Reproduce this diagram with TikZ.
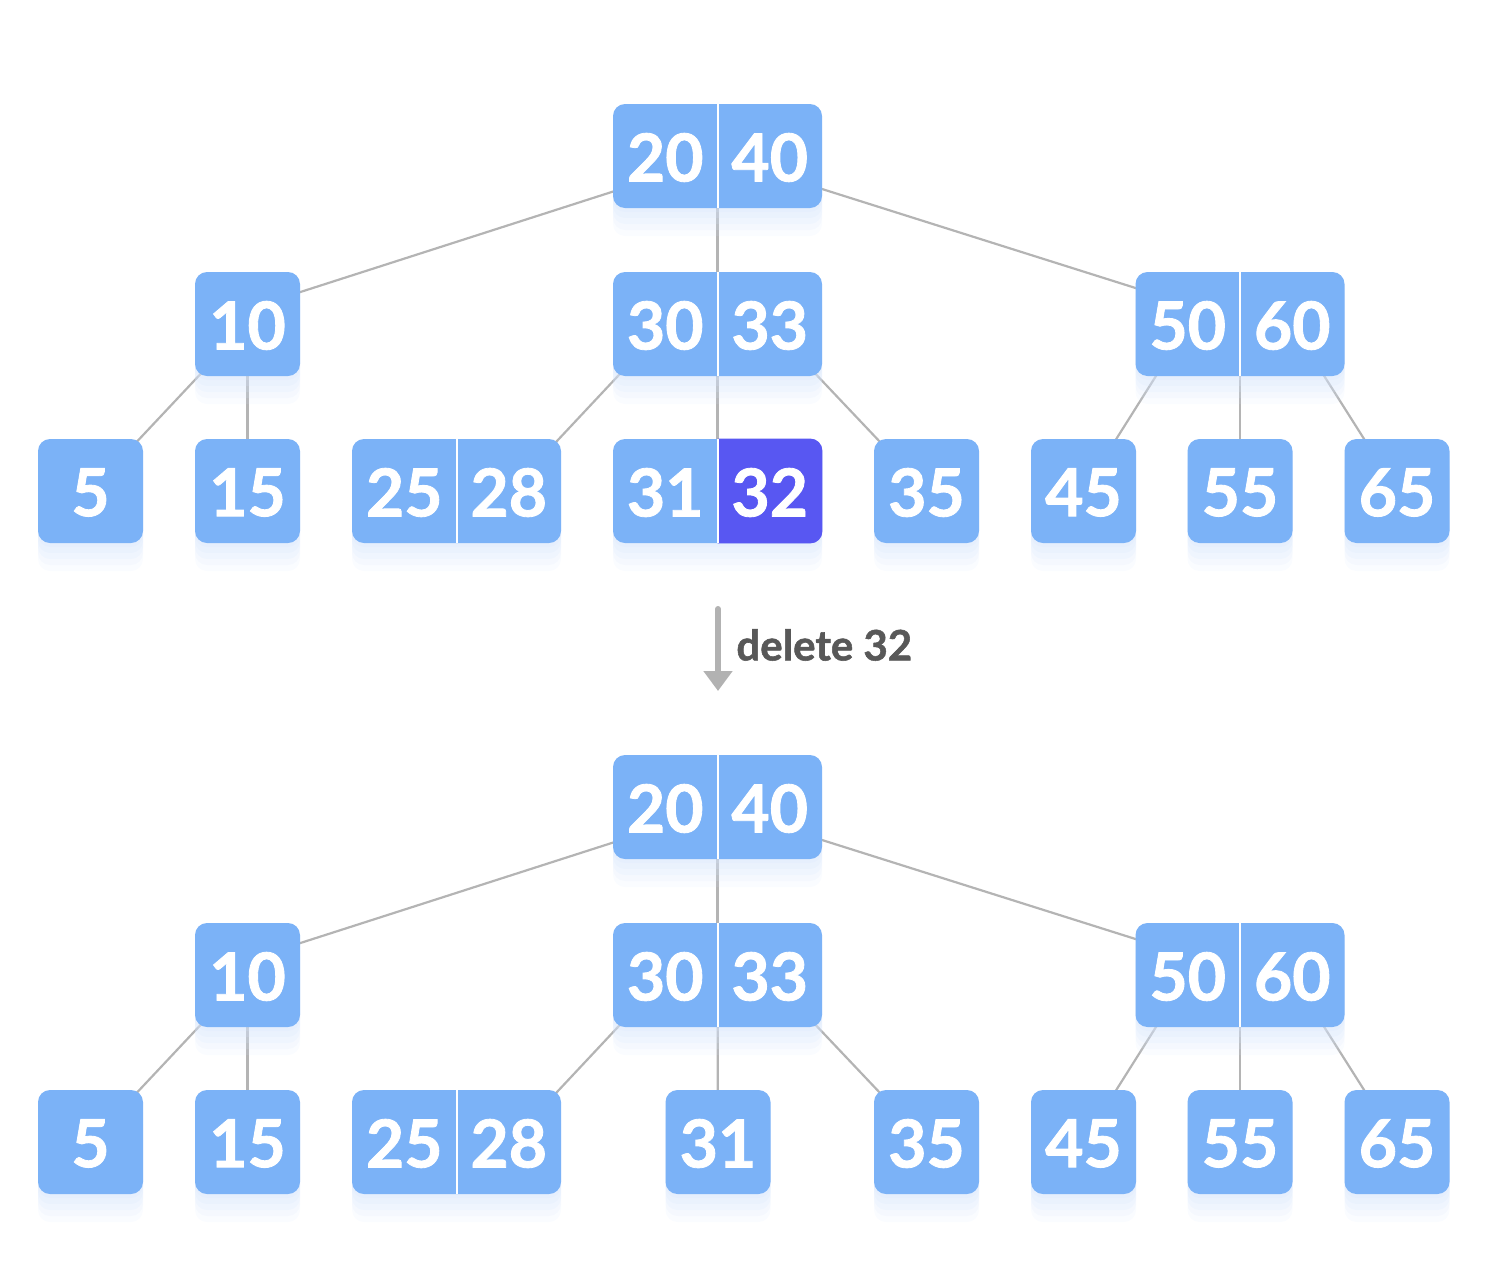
\documentclass[tikz,border=0pt]{standalone}
\usepackage{fontspec}
\setmainfont{Lato}[BoldFeatures={FakeBold=1.3}]
\newfontfamily\lblfont{Lato}
\usetikzlibrary{calc,shadows,arrows.meta}
\definecolor{boxblue}{RGB}{123,178,247}
\definecolor{selpurple}{RGB}{88,87,242}
\definecolor{edgegray}{RGB}{180,180,180}
\definecolor{arrowgray}{RGB}{178,178,178}
\definecolor{lblgray}{RGB}{88,88,88}
\definecolor{shblue}{RGB}{214,229,252}
\pgfdeclarelayer{background}
\pgfsetlayers{background,main}
\tikzset{
  softshadow/.style={
    drop shadow={shadow xshift=0pt,shadow yshift=-2pt,fill=shblue,opacity=0.2},
    drop shadow={shadow xshift=0pt,shadow yshift=-5pt,fill=shblue,opacity=0.2},
    drop shadow={shadow xshift=0pt,shadow yshift=-8pt,fill=shblue,opacity=0.18},
    drop shadow={shadow xshift=0pt,shadow yshift=-11pt,fill=shblue,opacity=0.15},
    drop shadow={shadow xshift=0pt,shadow yshift=-14pt,fill=shblue,opacity=0.12}},
  onebox/.style={rectangle, fill=boxblue, rounded corners=6pt, inner sep=0pt,
    minimum width=52.5pt, minimum height=52pt, softshadow},
  pairbox/.style={onebox, minimum width=104.5pt},
  keytxt/.style={inner sep=0pt, text=white, font=\fontsize{33}{33}\selectfont\bfseries},
  divider/.style={draw=white, line width=1pt},
  edge/.style={draw=edgegray, line width=1.1pt},
}
\newcommand\singlekey[4]{%
  \node[onebox] (#1) at (#2,#3) {};
  \node[keytxt] (#1t) at ($(#1.center)+(0,1.5)$) {#4};}
\newcommand\pairkey[5]{%
  \node[pairbox] (#1) at (#2,#3) {};
  \node[keytxt] (#1a) at ($(#1.center)+(-52.25,1.5)$) {#4};
  \node[keytxt] (#1b) at ($(#1.center)+(52.25,1.5)$) {#5};
  \draw[divider] (#1.north) -- (#1.south);}
\begin{document}
\begin{tikzpicture}[x=0.5pt,y=-0.5pt]
\useasboundingbox (0,0) rectangle (1506,1264);
% ---------------- top tree ----------------
\pairkey{R}{717.5}{156}{20}{40}
\singlekey{A}{247.5}{324}{10}
\pairkey{B}{717.5}{324}{30}{33}
\pairkey{C}{1240}{324}{50}{60}
\singlekey{L1}{90.5}{491}{5}
\singlekey{L2}{247.5}{491}{15}
\pairkey{L3}{456.5}{491}{25}{28}
% 31|32 with highlighted 32
\node[pairbox] (L4) at (717.5,491) {};
\begin{scope}
  \clip (L4.north) rectangle ($(L4.south east)+(2,2)$);
  \fill[selpurple, rounded corners=6pt] (L4.south west) rectangle (L4.north east);
\end{scope}
\node[keytxt] (L4a) at ($(L4.center)+(-52.25,1.5)$) {31};
\node[keytxt] (L4b) at ($(L4.center)+(52.25,1.5)$) {32};
\draw[divider] (L4.north) -- (L4.south);
\singlekey{L5}{926.5}{491}{35}
\singlekey{L6}{1083.5}{491}{45}
\singlekey{L7}{1240}{491}{55}
\singlekey{L8}{1397}{491}{65}
\begin{pgfonlayer}{background}
  \draw[edge] ($(R.center)+(0,2)$) -- ($(A.center)+(0,-15)$);
  \draw[edge] (R.center) -- (B.center);
  \draw[edge] (R.center) -- ($(C.center)+(0,-3)$);
  \draw[edge] (A.center) -- (L1.center);
  \draw[edge] (A.center) -- (L2.center);
  \draw[edge] (Ba) -- (L3b);
  \draw[edge] (B.center) -- (L4.center);
  \draw[edge] (Bb) -- (L5.center);
  \draw[edge] (Ca) -- (L6.center);
  \draw[edge] (C.center) -- (L7.center);
  \draw[edge] (Cb) -- (L8.center);
\end{pgfonlayer}
% ---------------- arrow ----------------
\coordinate (as) at (718,609);
\coordinate (ae) at (718,691);
\draw[arrowgray, line width=3pt, line cap=round,
  -{Triangle[width=14pt,length=10pt,line cap=butt]}] (as) -- (ae);
\node[anchor=west, inner sep=0pt, text=lblgray,
  font=\fontsize{21}{21}\selectfont\bfseries] (lbl) at (736,645) {delete 32};
% ---------------- bottom tree ----------------
\pairkey{r}{717.5}{807}{20}{40}
\singlekey{a}{247.5}{975}{10}
\pairkey{b}{717.5}{975}{30}{33}
\pairkey{c}{1240}{975}{50}{60}
\singlekey{l1}{90.5}{1142}{5}
\singlekey{l2}{247.5}{1142}{15}
\pairkey{l3}{456.5}{1142}{25}{28}
\singlekey{l4}{718}{1142}{31}
\singlekey{l5}{926.5}{1142}{35}
\singlekey{l6}{1083.5}{1142}{45}
\singlekey{l7}{1240}{1142}{55}
\singlekey{l8}{1397}{1142}{65}
\begin{pgfonlayer}{background}
  \draw[edge] ($(r.center)+(0,2)$) -- ($(a.center)+(0,-15)$);
  \draw[edge] (r.center) -- (b.center);
  \draw[edge] (r.center) -- ($(c.center)+(0,-3)$);
  \draw[edge] (a.center) -- (l1.center);
  \draw[edge] (a.center) -- (l2.center);
  \draw[edge] (ba) -- (l3b);
  \draw[edge] (b.center) -- (l4.center);
  \draw[edge] (bb) -- (l5.center);
  \draw[edge] (ca) -- (l6.center);
  \draw[edge] (c.center) -- (l7.center);
  \draw[edge] (cb) -- (l8.center);
\end{pgfonlayer}
\end{tikzpicture}
\end{document}
